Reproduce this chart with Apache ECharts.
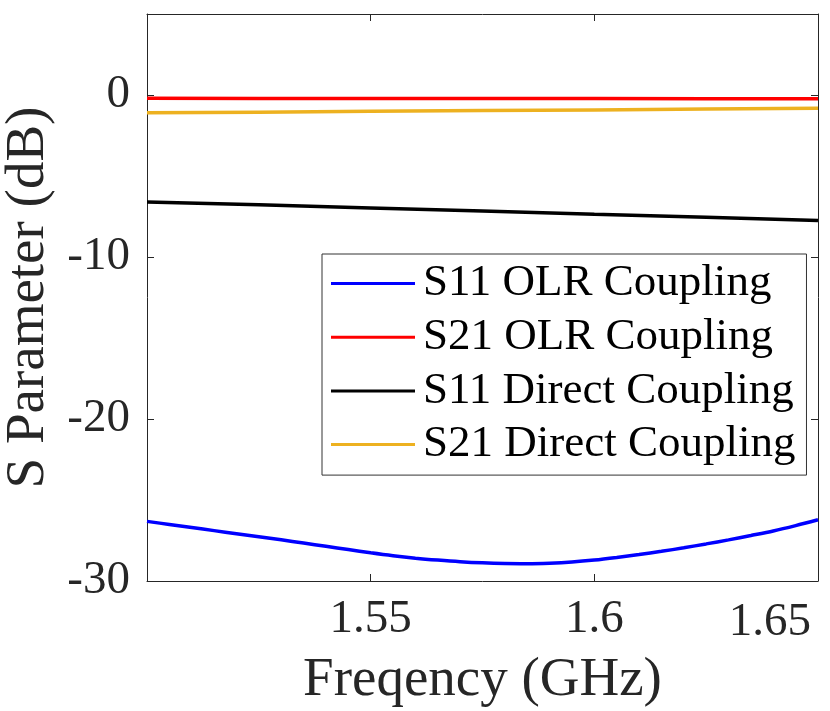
<!DOCTYPE html>
<html>
<head>
<meta charset="utf-8">
<script src="https://cdn.jsdelivr.net/npm/echarts@6/dist/echarts.min.js"></script>
<style>
html,body{margin:0;padding:0;background:#fff;}
#chart{width:830px;height:711px;}
</style>
</head>
<body>
<div id="chart"></div>
<script>
// ---- data ----
var seriesNames = ['S11 OLR Coupling', 'S21 OLR Coupling', 'S11 Direct Coupling', 'S21 Direct Coupling'];
var freqFine = [1.500,1.505,1.510,1.515,1.520,1.525,1.530,1.535,1.540,1.545,1.550,1.555,1.560,1.565,1.570,1.575,1.580,1.585,1.590,1.595,1.600,1.605,1.610,1.615,1.620,1.625,1.630,1.635,1.640,1.645,1.650];
var s11OLR = [-26.32,-26.51,-26.70,-26.89,-27.08,-27.27,-27.46,-27.66,-27.86,-28.06,-28.26,-28.44,-28.59,-28.71,-28.81,-28.88,-28.92,-28.93,-28.90,-28.83,-28.71,-28.55,-28.37,-28.17,-27.95,-27.71,-27.46,-27.19,-26.91,-26.58,-26.22];
var freqCoarse = [1.500,1.525,1.550,1.575,1.600,1.625,1.650];
var s21OLR = [-0.20,-0.21,-0.21,-0.22,-0.22,-0.23,-0.23];
var s11Direct = [-6.60,-6.78,-6.97,-7.16,-7.36,-7.55,-7.74];
var s21Direct = [-1.10,-1.06,-1.01,-0.96,-0.92,-0.87,-0.82];
var xTickLabels = ['1.55','1.6','1.65'];
var yTickLabels = ['-30','-20','-10','0'];

function pairs(xs, ys){ return xs.map(function(x,i){ return [x, ys[i]]; }); }

var FONT = "'Liberation Serif','Times New Roman',serif";
var AXC = '#262626';
var colors = ['#0000FF','#FF0000','#000000','#EDB120'];

var chart = echarts.init(document.getElementById('chart'), null, {renderer:'canvas'});
function axLine(){ return {show:true, onZero:false, lineStyle:{color:AXC, width:1}}; }
function axTick(){ return {show:true, inside:true, length:7, lineStyle:{color:AXC, width:1}}; }
var option = {
  animation:false,
  backgroundColor:'#ffffff',
  grid:{left:147, right:12, top:14, bottom:130, containLabel:false, outerBoundsMode:'none'},
  legend:{
    orient:'vertical', left:322, top:254,
    data:seriesNames,
    icon:'rect', itemWidth:84, itemHeight:3, itemGap:8.7,
    padding:[7,11,8,9],
    borderColor:'#333333', borderWidth:1, backgroundColor:'#ffffff',
    textStyle:{fontFamily:FONT, fontSize:45, color:'#000', lineHeight:45, padding:[0,0,0,3]},
    selectedMode:false
  },
  xAxis:[{
    type:'value', min:1.5, max:1.65, interval:0.05,
    name:'Freqency (GHz)', nameLocation:'middle', nameGap:72,
    nameTextStyle:{fontFamily:FONT, fontSize:55, color:AXC},
    axisLine:axLine(), axisTick:axTick(),
    splitLine:{show:false},
    axisLabel:{
      fontFamily:FONT, fontSize:47, color:AXC, margin:15, alignMaxLabel:'right',
      formatter:function(v){
        var s = String(Number(v.toFixed(2)));
        if (xTickLabels.indexOf(s) < 0) return '';
        return s === xTickLabels[xTickLabels.length-1] ? '{e|' + s + '}' : s;
      },
      rich:{ e:{fontFamily:FONT, fontSize:47, color:AXC, padding:[3,7,0,0]} }
    }
  },{
    type:'value', position:'top', min:1.5, max:1.65, interval:0.05,
    axisLine:axLine(), axisTick:axTick(),
    axisLabel:{show:false}, splitLine:{show:false}
  }],
  yAxis:[{
    type:'value', min:-30, max:5, interval:10,
    name:'S Parameter (dB)', nameLocation:'middle', nameGap:76,
    nameTextStyle:{fontFamily:FONT, fontSize:55, color:AXC},
    axisLine:axLine(), axisTick:axTick(),
    splitLine:{show:false},
    axisLabel:{
      fontFamily:FONT, fontSize:47, color:AXC, margin:17,
      formatter:function(v){ var s = String(Math.round(v)); return yTickLabels.indexOf(s) >= 0 ? s : ''; }
    }
  },{
    type:'value', position:'right', min:-30, max:5, interval:10,
    axisLine:axLine(), axisTick:axTick(),
    axisLabel:{show:false}, splitLine:{show:false}
  }],
  series:[
    {name:seriesNames[0], type:'line', data:pairs(freqFine, s11OLR), smooth:0.3, showSymbol:false, symbol:'none', lineStyle:{width:3.5, color:colors[0]}, itemStyle:{color:colors[0]}},
    {name:seriesNames[1], type:'line', data:pairs(freqCoarse, s21OLR), showSymbol:false, symbol:'none', lineStyle:{width:3.5, color:colors[1]}, itemStyle:{color:colors[1]}},
    {name:seriesNames[2], type:'line', data:pairs(freqCoarse, s11Direct), showSymbol:false, symbol:'none', lineStyle:{width:3.5, color:colors[2]}, itemStyle:{color:colors[2]}},
    {name:seriesNames[3], type:'line', data:pairs(freqCoarse, s21Direct), showSymbol:false, symbol:'none', lineStyle:{width:3.5, color:colors[3]}, itemStyle:{color:colors[3]}}
  ]
};
chart.setOption(option);
</script>
</body>
</html>
